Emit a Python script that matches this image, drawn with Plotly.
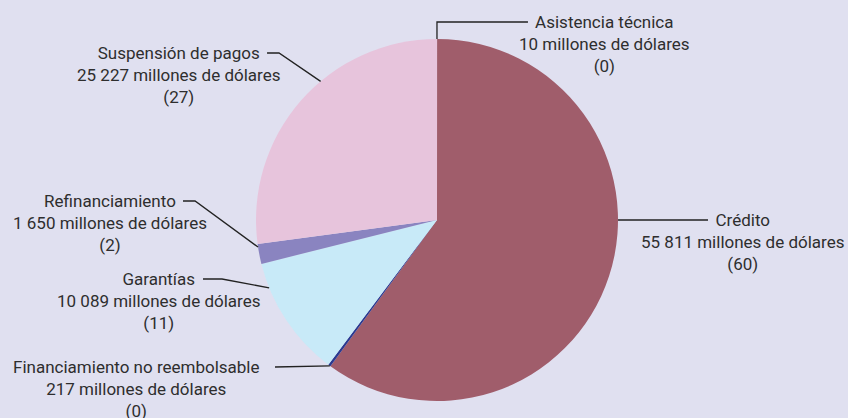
import math
import plotly.graph_objects as go

# Datos (millones de dólares), en el orden del gráfico, desde las 12 en sentido horario
categorias = [
    "Asistencia técnica",
    "Crédito",
    "Financiamiento no reembolsable",
    "Garantías",
    "Refinanciamiento",
    "Suspensión de pagos",
]
montos = [10, 55811, 217, 10089, 1650, 25227]
montos_txt = ["10", "55 811", "217", "10 089", "1 650", "25 227"]
porcentajes = ["0", "60", "0", "11", "2", "27"]
colores = ["#7a3a4a", "#a05d6b", "#2b3990", "#c8eaf8", "#8a84c0", "#e7c4dc"]

W, H = 848, 418
CX, CY, R = 437, 220, 181  # centro y radio del pie en píxeles

fig = go.Figure(go.Pie(
    labels=categorias,
    values=montos,
    sort=False,
    direction="clockwise",
    rotation=0,
    marker=dict(colors=colores, line=dict(width=0)),
    textinfo="none",
    hoverinfo="label+value+percent",
    showlegend=False,
    domain=dict(x=[(CX - R) / W, (CX + R) / W], y=[1 - (CY + R) / H, 1 - (CY - R) / H]),
))

# posición de las etiquetas (px): ángulo de anclaje en el pie, codo, extremo de línea, centro del texto
etiquetas = [
    dict(ang=0.0, codo=(437, 22), fin=(528, 22), txt=(604, 44)),
    dict(ang=90.0, codo=None, fin=(708, 220), txt=(742, 242)),
    dict(ang=216.3, codo=None, fin=(275, 367), txt=(136, 389)),
    dict(ang=248.0, codo=(222, 279), fin=(203, 279), txt=(158, 301)),
    dict(ang=261.4, codo=(195, 201), fin=(183, 201), txt=(110, 223)),
    dict(ang=320.0, codo=(279, 53), fin=(267, 53), txt=(178, 75)),
]


def px(x, y):
    return x / W, 1 - y / H


for cat, m, p, e in zip(categorias, montos_txt, porcentajes, etiquetas):
    a = math.radians(e["ang"])
    x0, y0 = CX + R * math.sin(a), CY - R * math.cos(a)
    puntos = [(x0, y0)]
    if e["codo"]:
        puntos.append(e["codo"])
    puntos.append(e["fin"])
    path = "M " + " L ".join("%.4f,%.4f" % px(*pt) for pt in puntos)
    fig.add_shape(type="path", path=path, xref="paper", yref="paper",
                  line=dict(color="#222222", width=1.3))
    tx, ty = px(*e["txt"])
    fig.add_annotation(
        x=tx, y=ty, xref="paper", yref="paper",
        text=f"{cat}<br>{m} millones de dólares<br>({p})",
        showarrow=False, align="center", xanchor="center", yanchor="middle",
        font=dict(size=17, color="#2e2e2e"),
    )

fig.update_layout(
    width=W, height=H,
    margin=dict(l=0, r=0, t=0, b=0),
    paper_bgcolor="#e0e0f0",
    plot_bgcolor="#e0e0f0",
    font=dict(family="Roboto, sans-serif"),
)

fig.write_html("out.html", config={"displayModeBar": False},
               post_script="document.body.style.margin='0';")
